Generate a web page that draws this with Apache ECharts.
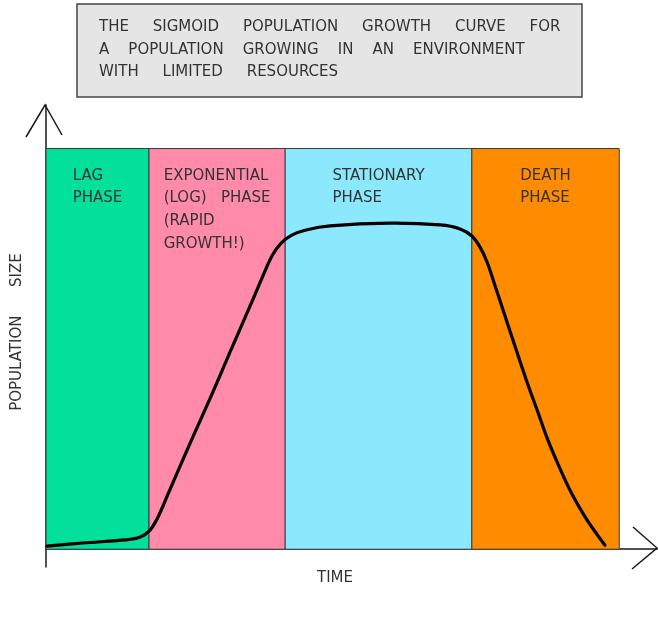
<!DOCTYPE html>
<html>
<head>
<meta charset="utf-8">
<script src="https://cdn.jsdelivr.net/npm/echarts@6/dist/echarts.min.js"></script>
<style>
html,body{margin:0;padding:0;background:#fff;}
#chart{width:658px;height:625px;}
</style>
</head>
<body>
<div id="chart"></div>
<script>
// ---- data ----
const titleLines = [
  'THE     SIGMOID     POPULATION     GROWTH     CURVE     FOR',
  'A    POPULATION    GROWING    IN    AN    ENVIRONMENT',
  'WITH     LIMITED     RESOURCES'
];
const xAxisName = 'TIME';
const yAxisName = 'POPULATION      SIZE';
const phaseNames = ['LAG\nPHASE', 'EXPONENTIAL\n(LOG)   PHASE\n(RAPID\nGROWTH!)', 'STATIONARY\nPHASE', 'DEATH\nPHASE'];
const phaseStart = [0, 20.2, 46.9, 83.5];
const phaseEnd = [20.2, 46.9, 83.5, 112.4];
const phaseTop = 90.2;
const phaseColors = ['#02e09c', '#ff8aaa', '#8ce8fc', '#ff8c00'];
const curveTime = [0.2, 7.3, 15.5, 18.4, 20.4, 22.0, 24.3, 28.2, 32.2, 36.1, 40.0, 42.35, 44.3, 46.1, 48.2, 50.8, 55.7, 67.5, 77.3, 81.2, 83.5, 85.1, 86.5, 88.0, 90.0, 92.0, 94.3, 96.5, 98.4, 100.8, 103.1, 105.7, 108.0, 109.6];
const curveSize = [0.7, 1.4, 2.1, 2.7, 4.3, 7.3, 13.4, 23.7, 34.0, 44.4, 54.7, 61.05, 66.0, 68.9, 70.7, 71.8, 72.8, 73.4, 73.0, 72.1, 70.5, 68.0, 64.6, 59.5, 52.5, 45.6, 37.7, 30.7, 24.6, 18.1, 12.5, 7.3, 3.4, 0.9];

// ---- chart ----
const FONT = '"DejaVu Sans", sans-serif';
const TEXT_COLOR = '#333';
const measureCtx = document.createElement('canvas').getContext('2d');
measureCtx.font = '15px ' + FONT;
function blockWidth(txt) {
  return Math.max.apply(null, txt.split('\n').map(l => measureCtx.measureText(l).width));
}

const chart = echarts.init(document.getElementById('chart'), null, {renderer: 'canvas'});
const phaseData = phaseStart.map((s, i) => [s, phaseEnd[i], phaseTop, i]);
const curveData = curveTime.map((t, i) => [t, curveSize[i]]);

// smooth curve through the data points (Catmull-Rom -> cubic Bezier), positioned by the axes
function curvePath(api) {
  const p = curveData.map(d => api.coord(d));
  let d = 'M' + p[0][0] + ' ' + p[0][1];
  for (let i = 0; i < p.length - 1; i++) {
    const p0 = p[Math.max(i - 1, 0)], p1 = p[i], p2 = p[i + 1], p3 = p[Math.min(i + 2, p.length - 1)];
    const c1 = [p1[0] + (p2[0] - p0[0]) / 6, p1[1] + (p2[1] - p0[1]) / 6];
    const c2 = [p2[0] - (p3[0] - p1[0]) / 6, p2[1] - (p3[1] - p1[1]) / 6];
    d += ' C' + c1[0] + ' ' + c1[1] + ' ' + c2[0] + ' ' + c2[1] + ' ' + p2[0] + ' ' + p2[1];
  }
  return d;
}

const option = {
  animation: false,
  grid: {left: 46, right: 0, top: 105, bottom: 58, containLabel: false, outerBoundsMode: 'none'},
  xAxis: {
    type: 'value', min: 0, max: 120,
    axisLine: {show: true, onZero: true, lineStyle: {color: '#1a1a1a', width: 1.5}},
    axisTick: {show: false}, axisLabel: {show: false}, splitLine: {show: false},
    name: xAxisName, nameLocation: 'middle', nameGap: 4,
    nameTextStyle: {fontFamily: FONT, fontSize: 15, color: TEXT_COLOR, verticalAlign: 'top', padding: [0, 34, 0, 0]}
  },
  yAxis: {
    type: 'value', min: -4, max: 100,
    axisLine: {show: true, onZero: false, lineStyle: {color: '#1a1a1a', width: 1.5}},
    axisTick: {show: false}, axisLabel: {show: false}, splitLine: {show: false},
    name: yAxisName, nameLocation: 'middle', nameGap: 21, nameRotate: 90,
    nameTextStyle: {fontFamily: FONT, fontSize: 15, color: TEXT_COLOR, padding: [0, 0, 0, 8]}
  },
  graphic: [
    {
      type: 'group', silent: true,
      children: [
        {type: 'rect', shape: {x: 77, y: 4, width: 505, height: 93},
         style: {fill: '#e5e5e5', stroke: '#444', lineWidth: 1.5}},
        {type: 'text', x: 99, y: 16,
         style: {text: titleLines.join('\n'), font: '15px ' + FONT, fill: TEXT_COLOR,
                 lineHeight: 22.5, verticalAlign: 'top', align: 'left'}}
      ]
    },
    {type: 'polyline', silent: true, shape: {points: [[26, 137], [45, 105], [62, 135]]},
     style: {stroke: '#1a1a1a', lineWidth: 1.5, fill: null}},
    {type: 'polyline', silent: true, shape: {points: [[633, 527], [657, 548], [632, 569]]},
     style: {stroke: '#1a1a1a', lineWidth: 1.5, fill: null}}
  ],
  series: [
    {
      type: 'custom', z: 1, silent: true,
      encode: {x: [0, 1], y: 2},
      data: phaseData,
      renderItem: function (params, api) {
        const p0 = api.coord([api.value(0), api.value(2)]);
        const p1 = api.coord([api.value(1), 0]);
        const idx = api.value(3);
        const txt = phaseNames[idx];
        const w = blockWidth(txt);
        const cx = (p0[0] + p1[0]) / 2;
        return {
          type: 'group',
          children: [
            {type: 'rect', shape: {x: p0[0], y: p0[1], width: p1[0] - p0[0], height: p1[1] - p0[1]},
             style: {fill: phaseColors[idx], stroke: '#3a3a3a', lineWidth: 1}},
            {type: 'text', x: cx - w / 2, y: p0[1] + 16,
             style: {text: txt, font: '15px ' + FONT, fill: TEXT_COLOR, lineHeight: 22.7,
                     align: 'left', verticalAlign: 'top'}}
          ]
        };
      }
    },
    {
      type: 'custom', z: 5, silent: true,
      encode: {x: 0, y: 1},
      data: curveData,
      renderItem: function (params, api) {
        if (params.dataIndex !== 0) return null;
        return {
          type: 'path',
          shape: {pathData: curvePath(api)},
          style: {fill: null, stroke: '#000', lineWidth: 3.2, lineCap: 'round', lineJoin: 'round'}
        };
      }
    }
  ]
};
chart.setOption(option);
</script>
</body>
</html>
